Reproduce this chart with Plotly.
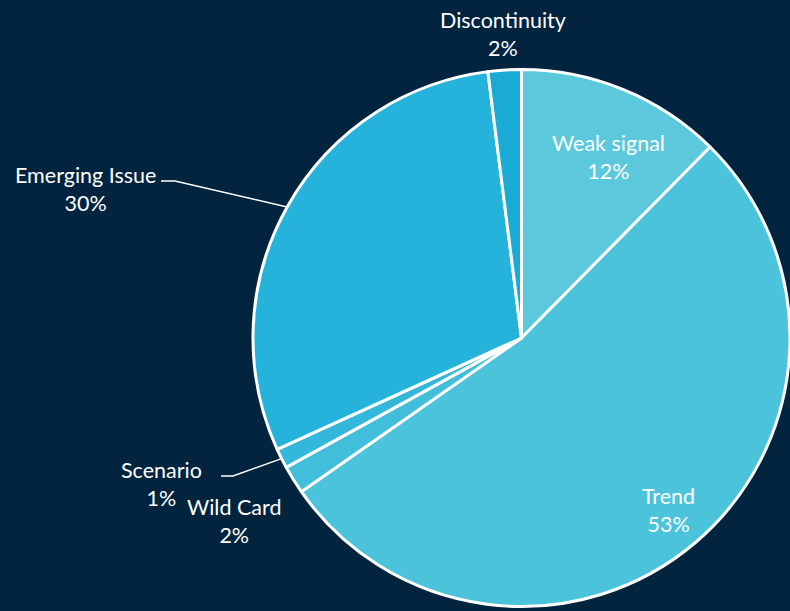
import math
import plotly.graph_objects as go

labels = ["Weak signal", "Trend", "Wild Card", "Scenario", "Emerging Issue", "Discontinuity"]
values = [12.4, 52.9, 1.7, 1.2, 29.8, 2.0]
colors = ["#5BC8DC", "#4BC3DA", "#41BEDA", "#33B8DB", "#25B3DB", "#19ABD6"]

W, H = 790, 611
CX, CY, R = 522, 338, 269
BG = "#03243F"
FONT = "Lato"
FS = 21.5

total = sum(values)
pcts = [round(v / total * 100) for v in values]

# pie domain from pixel geometry (zero margins)
dom_x = [(CX - R) / W, min(1.0, (CX + R) / W)]
dom_y = [(H - CY - R) / H, (H - CY + R) / H]

fig = go.Figure(go.Pie(
    labels=labels, values=values, sort=False, direction="clockwise", rotation=0,
    marker=dict(colors=colors, line=dict(color="white", width=3)),
    textinfo="none",
    domain=dict(x=dom_x, y=dom_y), showlegend=False, hoverinfo="label+percent",
))

def px2paper(x, y):
    return x / W, 1 - y / H

def mid_point(i, rad):
    start = sum(values[:i]) / total
    mid = (start + values[i] / total / 2) * 2 * math.pi
    return CX + rad * math.sin(mid), CY - rad * math.cos(mid)

# label placements (pixel centers) and optional leader line (x_text_end, y, x_elbow)
placement = {
    "Weak signal": dict(pos=(608, 157), leader=None),
    "Trend": dict(pos=(668, 510), leader=None),
    "Discontinuity": dict(pos=(503, 34), leader=None),
    "Emerging Issue": dict(pos=(85, 189), leader=(161, 181, 175)),
    "Scenario": dict(pos=(161, 484), leader=(221, 476, 233)),
    "Wild Card": dict(pos=(234, 521), leader=None),
}

annotations = []
shapes = []
for i, l in enumerate(labels):
    o = placement[l]
    ax, ay = px2paper(*o["pos"])
    annotations.append(dict(
        x=ax, y=ay, xref="paper", yref="paper", showarrow=False,
        xanchor="center", yanchor="middle",
        text=f"{l}<br>{pcts[i]}%", align="center",
        font=dict(color="white", size=FS, family=FONT),
    ))
    if o["leader"]:
        x0, yl, x1 = o["leader"]
        ex, ey = mid_point(i, R)
        pts = [px2paper(x0, yl), px2paper(x1, yl), px2paper(ex, ey)]
        path = "M {} {} L {} {} L {} {}".format(*[c for p in pts for c in p])
        shapes.append(dict(type="path", path=path, xref="paper", yref="paper",
                           line=dict(color="white", width=1.5)))

fig.update_layout(
    width=W, height=H, margin=dict(l=0, r=0, t=0, b=0),
    paper_bgcolor=BG, plot_bgcolor=BG,
    font=dict(family=FONT, color="white"),
    annotations=annotations, shapes=shapes,
)
fig.write_html("out.html", config={"displayModeBar": False},
               post_script="document.body.style.margin='0';document.body.style.background='%s';" % BG)
